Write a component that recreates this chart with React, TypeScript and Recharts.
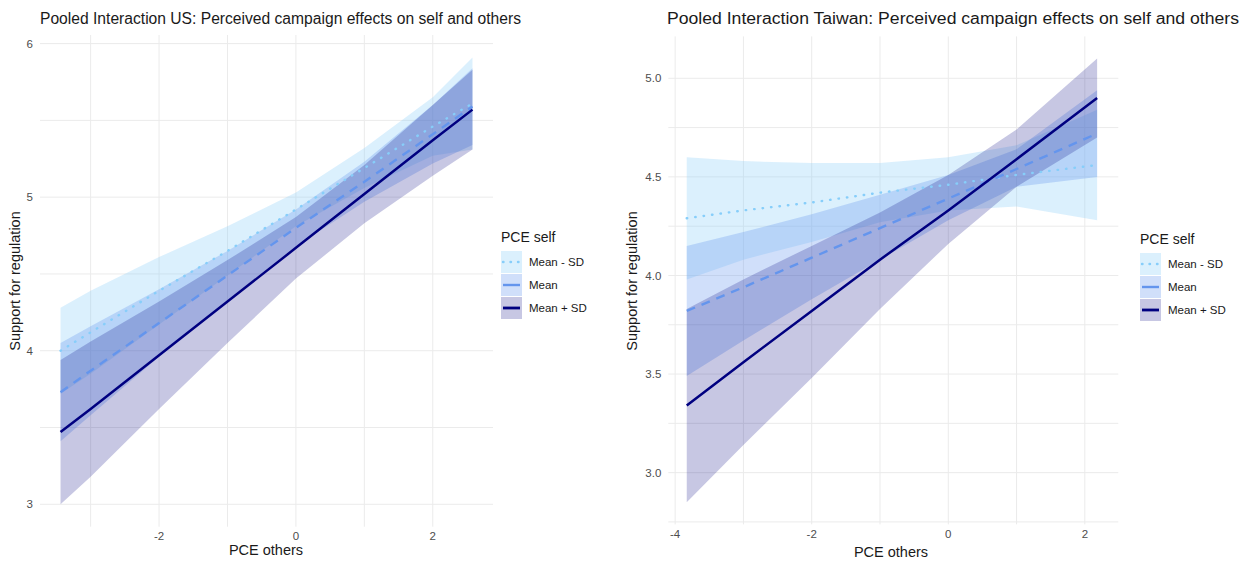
import { Area, CartesianGrid, ComposedChart, Line, XAxis, YAxis } from 'recharts'

// PCE self groups, in legend order
const groups = ['Mean - SD', 'Mean', 'Mean + SD']
const lineColors = ['#87CEFA', '#6495ED', '#000080']
const fillOpacities = [0.3, 0.3, 0.22]

// US panel
const usX = [-3.44, -3, -2, -1, 0, 1, 2, 2.58]
const usLowFit = [4.0, 4.12, 4.39, 4.65, 4.92, 5.19, 5.46, 5.61]
const usLowLo = [3.72, 3.85, 4.17, 4.49, 4.81, 5.06, 5.27, 5.31]
const usLowHi = [4.28, 4.39, 4.61, 4.81, 5.03, 5.32, 5.65, 5.91]
const usMeanFit = [3.73, 3.87, 4.18, 4.49, 4.8, 5.1, 5.41, 5.59]
const usMeanLo = [3.41, 3.58, 3.96, 4.33, 4.68, 4.97, 5.22, 5.34]
const usMeanHi = [4.05, 4.16, 4.4, 4.65, 4.92, 5.23, 5.6, 5.84]
const usHighFit = [3.47, 3.62, 3.97, 4.32, 4.67, 5.02, 5.37, 5.57]
const usHighLo = [3.0, 3.18, 3.62, 4.05, 4.47, 4.83, 5.14, 5.31]
const usHighHi = [3.94, 4.06, 4.32, 4.59, 4.87, 5.21, 5.6, 5.83]

// Taiwan panel
const twX = [-3.83, -3, -2, -1, 0, 1, 2.18]
const twLowFit = [4.29, 4.33, 4.37, 4.42, 4.46, 4.51, 4.56]
const twLowLo = [3.98, 4.08, 4.17, 4.27, 4.33, 4.35, 4.28]
const twLowHi = [4.6, 4.58, 4.57, 4.57, 4.6, 4.66, 4.84]
const twMeanFit = [3.82, 3.94, 4.09, 4.24, 4.39, 4.54, 4.72]
const twMeanLo = [3.49, 3.67, 3.88, 4.08, 4.28, 4.45, 4.5]
const twMeanHi = [4.15, 4.22, 4.31, 4.41, 4.51, 4.64, 4.94]
const twHighFit = [3.34, 3.56, 3.82, 4.08, 4.33, 4.59, 4.9]
const twHighLo = [2.85, 3.14, 3.48, 3.83, 4.16, 4.45, 4.7]
const twHighHi = [3.83, 3.98, 4.15, 4.32, 4.51, 4.74, 5.1]

const usXTicks = [-2, 0, 2]
const usYTicks = [3, 4, 5, 6]
const usXGrid = [-3, -2, -1, 0, 1, 2]
const usYGrid = [3, 3.5, 4, 4.5, 5, 5.5, 6]
const twXTicks = [-4, -2, 0, 2]
const twYTicks = [3, 3.5, 4, 4.5, 5]
const twXGrid = [-4, -3, -2, -1, 0, 1, 2]
const twYGrid = [2.75, 3, 3.25, 3.5, 3.75, 4, 4.25, 4.5, 4.75, 5]

function buildRows(x: number[], fits: number[][], los: number[][], his: number[][]) {
  return x.map((v, i) => {
    const row: Record<string, number | number[]> = { x: v }
    fits.forEach((f, g) => {
      row[`fit${g}`] = f[i]
      row[`band${g}`] = [los[g][i], his[g][i]]
    })
    return row
  })
}

const usData = buildRows(
  usX,
  [usLowFit, usMeanFit, usHighFit],
  [usLowLo, usMeanLo, usHighLo],
  [usLowHi, usMeanHi, usHighHi],
)
const twData = buildRows(
  twX,
  [twLowFit, twMeanFit, twHighFit],
  [twLowLo, twMeanLo, twHighLo],
  [twLowHi, twMeanHi, twHighHi],
)

const font = '"Liberation Sans", Arial, sans-serif'
const tickStyle = { fill: '#4d4d4d', fontSize: 11.5, fontFamily: font }

function lineDash(g: number) {
  if (g === 0) return '0.5 8'
  if (g === 1) return '9 7'
  return undefined
}

interface PanelProps {
  data: Record<string, number | number[]>[]
  left: number
  width: number
  top: number
  yAxisWidth: number
  right: number
  xAxisHeight: number
  xDomain: [number, number]
  yDomain: [number, number]
  xTicks: number[]
  yTicks: number[]
  xGrid: number[]
  yGrid: number[]
  yFormat?: (v: number) => string
}

function Panel(p: PanelProps) {
  return (
    <div style={{ position: 'absolute', left: p.left, top: 0 }}>
      <ComposedChart
        width={p.width}
        height={563}
        data={p.data}
        margin={{ top: p.top, right: p.right, bottom: 0, left: 0 }}
      >
        <CartesianGrid stroke="#ebebeb" strokeWidth={1} horizontalValues={p.yGrid} verticalValues={p.xGrid} />
        <XAxis
          dataKey="x"
          type="number"
          domain={p.xDomain}
          ticks={p.xTicks}
          allowDataOverflow
          axisLine={false}
          tickLine={false}
          tickSize={0}
          tickMargin={5}
          height={p.xAxisHeight}
          tick={tickStyle}
        />
        <YAxis
          type="number"
          domain={p.yDomain}
          ticks={p.yTicks}
          allowDataOverflow
          axisLine={false}
          tickLine={false}
          tickSize={0}
          tickMargin={7}
          width={p.yAxisWidth}
          tick={tickStyle}
          tickFormatter={p.yFormat}
        />
        {groups.map((name, g) => (
          <Area
            key={`band-${name}`}
            dataKey={`band${g}`}
            type="linear"
            stroke="none"
            fill={lineColors[g]}
            fillOpacity={fillOpacities[g]}
            isAnimationActive={false}
          />
        ))}
        {groups.map((name, g) => (
          <Line
            key={`line-${name}`}
            dataKey={`fit${g}`}
            type="linear"
            stroke={lineColors[g]}
            strokeWidth={g === 2 ? 2.5 : 2.4}
            strokeDasharray={lineDash(g)}
            strokeLinecap={g === 0 ? 'round' : 'butt'}
            dot={false}
            isAnimationActive={false}
          />
        ))}
      </ComposedChart>
    </div>
  )
}

function LegendKey({ g }: { g: number }) {
  return (
    <svg width={21} height={22} style={{ display: 'block' }}>
      <rect x={0} y={0} width={21} height={22} fill={lineColors[g]} fillOpacity={fillOpacities[g]} />
      <line
        x1={2}
        x2={19}
        y1={11}
        y2={11}
        stroke={lineColors[g]}
        strokeWidth={g === 2 ? 2.8 : 2.4}
        strokeDasharray={g === 0 ? '0.5 7' : undefined}
        strokeLinecap={g === 0 ? 'round' : 'butt'}
      />
    </svg>
  )
}

function Legend({ left, top }: { left: number; top: number }) {
  return (
    <div style={{ position: 'absolute', left, top, fontFamily: font, color: '#1a1a1a' }}>
      <div style={{ fontSize: 14, marginBottom: 6 }}>PCE self</div>
      {groups.map((name, g) => (
        <div key={name} style={{ display: 'flex', alignItems: 'center', height: 22.5, marginBottom: 0.5 }}>
          <LegendKey g={g} />
          <span style={{ fontSize: 11.5, marginLeft: 7 }}>{name}</span>
        </div>
      ))}
    </div>
  )
}

// text that is not drawn by the charts: titles and axis titles
function Labels() {
  const text = { fontFamily: font, fill: '#1a1a1a' }
  return (
    <svg
      width={1253}
      height={563}
      style={{ position: 'absolute', left: 0, top: 0, pointerEvents: 'none' }}
    >
      <text {...text} x={40} y={24} fontSize={16} textLength={481} lengthAdjust="spacingAndGlyphs">
        Pooled Interaction US: Perceived campaign effects on self and others
      </text>
      <text {...text} x={667} y={24} fontSize={16} textLength={572} lengthAdjust="spacingAndGlyphs">
        Pooled Interaction Taiwan: Perceived campaign effects on self and others
      </text>
      <text {...text} x={266} y={555} fontSize={14.5} textAnchor="middle">
        PCE others
      </text>
      <text {...text} x={891} y={557} fontSize={14.5} textAnchor="middle">
        PCE others
      </text>
      <text {...text} x={20} y={281} fontSize={14.5} textAnchor="middle" transform="rotate(-90 20 281)">
        Support for regulation
      </text>
      <text {...text} x={637} y={281} fontSize={14.5} textAnchor="middle" transform="rotate(-90 637 281)">
        Support for regulation
      </text>
    </svg>
  )
}

export default function App() {
  return (
    <div
      style={{
        position: 'absolute',
        left: 0,
        top: 0,
        width: 1253,
        height: 563,
        background: '#ffffff',
        overflow: 'hidden',
      }}
    >
      <Panel
        data={usData}
        left={0}
        width={500}
        top={35}
        yAxisWidth={40}
        right={7}
        xAxisHeight={36.3}
        xDomain={[-3.74, 2.88]}
        yDomain={[2.854, 6.056]}
        xTicks={usXTicks}
        yTicks={usYTicks}
        xGrid={usXGrid}
        yGrid={usYGrid}
      />
      <Panel
        data={twData}
        left={600}
        width={530}
        top={36.4}
        yAxisWidth={68.3}
        right={11.7}
        xAxisHeight={38.6}
        xDomain={[-4.1, 2.49]}
        yDomain={[2.7375, 5.2125]}
        xTicks={twXTicks}
        yTicks={twYTicks}
        xGrid={twXGrid}
        yGrid={twYGrid}
        yFormat={(v: number) => v.toFixed(1)}
      />
      <Labels />
      <Legend left={501} top={229} />
      <Legend left={1140} top={231} />
    </div>
  )
}
